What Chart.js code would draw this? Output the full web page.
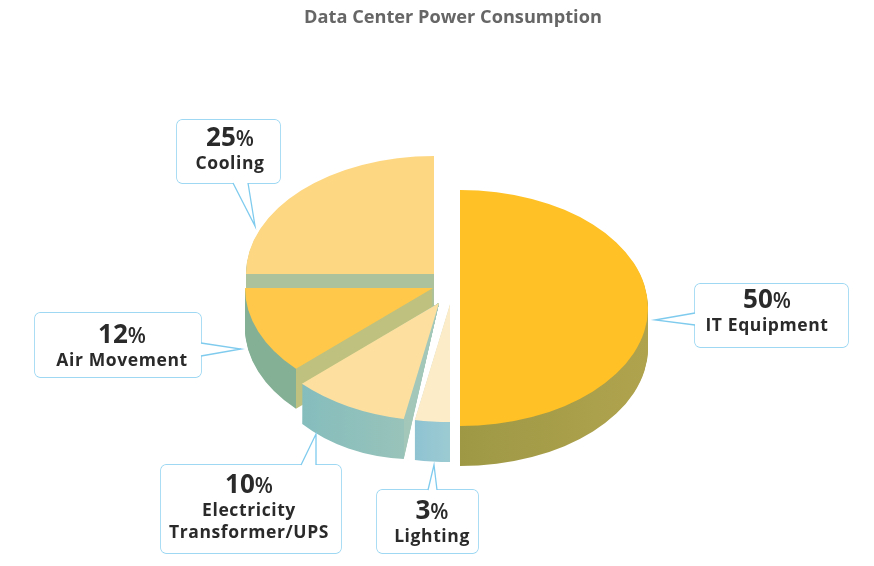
<!DOCTYPE html>
<html>
<head>
<meta charset="utf-8">
<title>Data Center Power Consumption</title>
<script src="https://cdn.jsdelivr.net/npm/chart.js@4"></script>
<style>
  html, body { margin: 0; padding: 0; background: #fff; }
  canvas { display: block; }
</style>
</head>
<body>
<canvas id="chart" width="874" height="566"></canvas>
<script>
const chartTitle = "Data Center Power Consumption";
const categories = ["IT Equipment", "Lighting", "Electricity\nTransformer/UPS", "Air Movement", "Cooling"];
const shares = [50, 3, 10, 12, 25];

// slice look, same order as categories
const topColors = ["#ffc125", "#fdecc8", "#fde0a0", "#ffc84a", "#fed783"];
const wallLeft = ["#9e9845", "#8fc3d2", "#85bdbd", "#84b096", "#abc29c"];
const wallRight = ["#b0a34e", "#9ccbd2", "#98c3ba", "#84b096", "#abc29c"];
const cutColors = [null, null, "#a3c8b9", "#bec27e", null];
const leanWall = [false, false, true, false, false];

// how far each slice sits from the pie centre
const explodeX = [23, 13, 2, -4, -3];
const explodeY = [13, 9, 8, -7, -21];

const pieRadius = 188;
const squash = 0.628;
const wallDepth = 40;
const pieCentreY = 295;
const backToFront = [4, 3, 2, 1, 0];

// callout boxes: [left, top, right, bottom], tails: base, base, tip
const boxes = [
  [695, 284, 848, 347],
  [377, 490, 478, 553],
  [161, 465, 341, 553],
  [35, 313, 201, 377],
  [177, 120, 280, 183]
];
const tails = [
  [[695, 313], [695, 325], [655, 320]],
  [[428, 490], [437, 490], [434, 465]],
  [[301, 465], [316, 465], [316, 434]],
  [[201, 343], [201, 356], [241, 349]],
  [[233, 183], [248, 183], [255, 226]]
];
const textCentre = [767, 432, 249, 122, 230];
const valueBaseline = [308, 519, 493, 343, 146];
const labelBaseline = [331, 542, 516, 366, 169];

function wallFill(ctx, el, i) {
  const xs = [0, Math.cos(el.startAngle), Math.cos(el.endAngle)];
  if (el.startAngle <= 0 && el.endAngle >= 0) xs.push(1);
  if (el.startAngle <= Math.PI && el.endAngle >= Math.PI) xs.push(-1);
  const xa = Math.min(...xs);
  const xb = Math.max(...xs);
  const g = ctx.createLinearGradient(el.x + pieRadius * xa, 0, el.x + pieRadius * xb, 0);
  g.addColorStop(0, wallLeft[i]);
  if (cutColors[i]) {
    const split = (Math.cos(el.startAngle) - xa) / (xb - xa);
    g.addColorStop(split, wallRight[i]);
    g.addColorStop(split, cutColors[i]);
    g.addColorStop(1, cutColors[i]);
  } else {
    g.addColorStop(1, wallRight[i]);
  }
  return g;
}

// pie is flat in Chart.js, so squash it and stack copies for the side walls
const tiltedPie = {
  id: "tiltedPie",
  beforeDatasetDraw(chart) {
    const ctx = chart.ctx;
    const arcs = chart.getDatasetMeta(0).data;
    backToFront.forEach(i => {
      const el = arcs[i];
      const cx = chart.width / 2 + explodeX[i];
      const cy = pieCentreY + explodeY[i];
      const keep = el.options;
      const mid = (el.startAngle + el.endAngle) / 2;
      const reach = pieRadius * Math.cos((el.endAngle - el.startAngle) / 2);

      el.options = { ...keep, backgroundColor: wallFill(ctx, el, i) };
      for (let d = wallDepth; d > 0; d--) {
        ctx.save();
        if (leanWall[i]) {
          // apex stays put, rim goes down, so the cut face comes out as a wedge
          ctx.transform(1, d * Math.cos(mid) / reach, 0, squash + d * Math.sin(mid) / reach, cx, cy);
        } else {
          ctx.transform(1, 0, 0, squash, cx, cy + d);
        }
        ctx.translate(-el.x, -el.y);
        el.draw(ctx);
        ctx.restore();
      }
      el.options = keep;

      ctx.save();
      ctx.transform(1, 0, 0, squash, cx, cy);
      ctx.translate(-el.x, -el.y);
      el.draw(ctx);
      ctx.restore();
    });
    return false;
  }
};

const callouts = {
  id: "callouts",
  afterDraw(chart) {
    const ctx = chart.ctx;
    categories.forEach((name, i) => {
      const [l, t, r, b] = boxes[i];
      const [p1, p2, tip] = tails[i];
      ctx.save();
      ctx.beginPath();
      ctx.roundRect(l, t, r - l, b - t, 5);
      ctx.fillStyle = "#fff";
      ctx.strokeStyle = "#7fcbee";
      ctx.lineWidth = 1.3;
      ctx.stroke();
      ctx.fill();
      ctx.beginPath();
      ctx.moveTo(p1[0], p1[1]);
      ctx.lineTo(tip[0], tip[1]);
      ctx.lineTo(p2[0], p2[1]);
      ctx.fill();
      ctx.stroke();

      const mid = textCentre[i];
      const num = String(shares[i]);
      ctx.fillStyle = "#2b2a2b";
      ctx.textBaseline = "alphabetic";
      ctx.textAlign = "left";
      ctx.font = "bold 26px 'Open Sans'";
      const numW = ctx.measureText(num).width;
      ctx.font = "600 21px 'Open Sans'";
      const pctW = ctx.measureText("%").width;
      const x0 = mid - (numW + pctW) / 2;
      ctx.font = "bold 26px 'Open Sans'";
      ctx.fillText(num, x0, valueBaseline[i]);
      ctx.font = "600 21px 'Open Sans'";
      ctx.fillText("%", x0 + numW, valueBaseline[i]);

      ctx.font = "bold 17.5px 'Open Sans'";
      ctx.letterSpacing = "0.6px";
      ctx.textAlign = "center";
      name.split("\n").forEach((line, n) => {
        ctx.fillText(line, mid, labelBaseline[i] + n * 22);
      });
      ctx.restore();
    });
  }
};

new Chart(document.getElementById("chart"), {
  type: "pie",
  data: {
    labels: categories,
    datasets: [{
      data: shares,
      backgroundColor: topColors,
      borderWidth: 0
    }]
  },
  options: {
    responsive: false,
    devicePixelRatio: 1,
    animation: false,
    events: [],
    radius: pieRadius,
    layout: { padding: { left: 32 } },
    plugins: {
      legend: { display: false },
      tooltip: { enabled: false },
      title: {
        display: true,
        text: chartTitle,
        color: "#666666",
        font: { family: "'Open Sans'", size: 18.2, weight: "bold" },
        padding: { top: 7, bottom: 8 }
      }
    }
  },
  plugins: [tiltedPie, callouts]
});
</script>
</body>
</html>
